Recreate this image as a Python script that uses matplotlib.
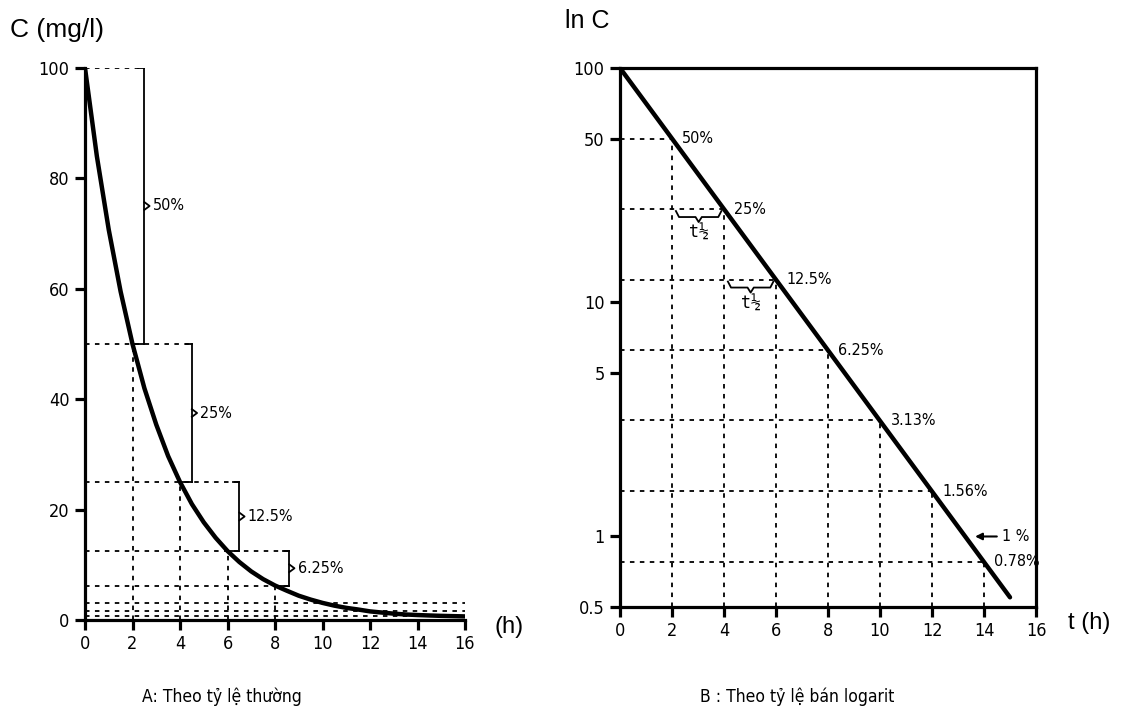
import numpy as np
import matplotlib
matplotlib.use("Agg")
import matplotlib.pyplot as plt
from matplotlib.ticker import NullLocator

# ---------------- data ----------------
curve_t = [0, 0.5, 1, 1.5, 2, 2.5, 3, 3.5, 4, 4.5, 5, 5.5, 6, 6.5, 7, 7.5, 8,
           8.5, 9, 9.5, 10, 10.5, 11, 11.5, 12, 12.5, 13, 13.5, 14, 14.5, 15, 15.5, 16]
curve_c = [100, 84, 70.7, 59.5, 50, 42, 35.4, 29.7, 25, 21, 17.7, 14.9, 12.5, 10.5, 8.8,
           7.4, 6.25, 5.3, 4.4, 3.7, 3.1, 2.6, 2.2, 1.9, 1.56, 1.35, 1.15, 1.0, 0.9,
           0.82, 0.75, 0.7, 0.65]

bracket_top = [100, 50, 25, 12.5]
bracket_bot = [50, 25, 12.5, 6.25]
bracket_tlow = [2, 4, 6, 8]
bracket_x = [2.5, 4.5, 6.5, 8.6]
bracket_lbl = ["50%", "25%", "12.5%", "6.25%"]

left_hlevels = [100, 50, 25, 12.5, 6.25, 3.13, 1.56, 0.78]
left_hend = [2.5, 4.5, 6.5, 8.6, 8.6, 16, 16, 16]
left_vtimes = [2, 4, 6, 8]
left_vtop = [50, 25, 12.5, 6.25]

left_xticks = [0, 2, 4, 6, 8, 10, 12, 14, 16]
left_yticks = [0, 20, 40, 60, 80, 100]

line_t = [0, 15]
line_c = [100, 0.55]

log_times = [2, 4, 6, 8, 10, 12, 14]
log_levels = [50, 25, 12.5, 6.25, 3.13, 1.56, 0.78]
log_lbls = ["50%", "25%", "12.5%", "6.25%", "3.13%", "1.56%", "0.78%"]

brace_t = [(2.15, 3.9), (4.15, 5.9)]
brace_lvl = [25, 12.5]

right_xticks = [0, 2, 4, 6, 8, 10, 12, 14, 16]
right_yticks = [0.5, 1, 5, 10, 50, 100]
right_yticklbl = ["0.5", "1", "5", "10", "50", "100"]

# ---------------- style ----------------
W, H = 1121, 720
fig = plt.figure(figsize=(W / 100, H / 100), dpi=100)
fig.patch.set_facecolor("white")

NARROW = dict(family=["DejaVu Sans"], stretch="condensed")
SANS = ["Liberation Sans", "DejaVu Sans"]
DOT = dict(color="black", lw=1.3, ls=(0, (2.5, 3)))

def style_axis(ax, allspines):
    for s in ["left", "bottom", "top", "right"]:
        ax.spines[s].set_linewidth(2.3)
        ax.spines[s].set_visible(allspines or s in ("left", "bottom"))
    ax.tick_params(direction="out", length=7, width=2.3, labelsize=13, pad=4)
    for lab in ax.get_xticklabels() + ax.get_yticklabels():
        lab.set_fontfamily(NARROW["family"])
        lab.set_fontstretch("condensed")

# ---------------- left panel ----------------
ax1 = fig.add_axes([85 / W, 1 - 620 / H, 380 / W, 552 / H])
ax1.set_xlim(0, 16)
ax1.set_ylim(0, 100)
ax1.set_xticks(left_xticks)
ax1.set_yticks(left_yticks)
style_axis(ax1, False)

for lvl, xe in zip(left_hlevels, left_hend):
    ax1.plot([0, xe], [lvl, lvl], **DOT, zorder=1)
for tv, top in zip(left_vtimes, left_vtop):
    ax1.plot([tv, tv], [0, top], **DOT, zorder=1)

for top, bot, tl, xb, lb in zip(bracket_top, bracket_bot, bracket_tlow, bracket_x, bracket_lbl):
    ax1.plot([xb - 0.25, xb], [top, top], color="black", lw=1.3)
    ax1.plot([xb, xb], [top, bot], color="black", lw=1.3)
    ax1.plot([tl, xb], [bot, bot], color="black", lw=1.3)
    mid = (top + bot) / 2
    ax1.plot([xb, xb + 0.22, xb], [mid + 0.7, mid, mid - 0.7], color="black", lw=1.3)
    ax1.text(xb + 0.35, mid, lb, fontsize=11.5, **NARROW, va="center", ha="left")

ax1.plot(curve_t, curve_c, color="black", lw=3.2, zorder=3, solid_capstyle="round")

fig.text(10 / W, 1 - 37 / H, "C (mg/l)", fontsize=19, family=SANS, va="baseline", ha="left")
fig.text(495 / W, 1 - 627 / H, "(h)", fontsize=17, family=SANS, va="center", ha="left")
fig.text(222 / W, 1 - 697 / H, "A: Theo tỷ lệ thường", fontsize=12.5, **NARROW,
         va="center", ha="center")

# ---------------- right panel ----------------
ax2 = fig.add_axes([620 / W, 1 - 607 / H, 416 / W, 539 / H])
ax2.set_yscale("log")
ax2.set_xlim(0, 16)
ax2.set_ylim(0.5, 100)
ax2.set_xticks(right_xticks)
ax2.set_yticks(right_yticks)
ax2.set_yticklabels(right_yticklbl)
ax2.yaxis.set_minor_locator(NullLocator())
style_axis(ax2, True)

for tv, lvl, lb in zip(log_times, log_levels, log_lbls):
    ax2.plot([0, tv], [lvl, lvl], **DOT, zorder=1)
    ax2.plot([tv, tv], [0.5, lvl], **DOT, zorder=1)
    ax2.text(tv + 0.4, lvl, lb, fontsize=11.5, **NARROW, va="center", ha="left")

PXDEC = 234.0
def down(lvl, px):
    return lvl * 10 ** (-px / PXDEC)

for (t1, t2), lvl in zip(brace_t, brace_lvl):
    tm = (t1 + t2) / 2
    xs = [t1, t1 + 0.12, tm - 0.12, tm, tm + 0.12, t2 - 0.12, t2]
    ys = [down(lvl, 2), down(lvl, 8), down(lvl, 8), down(lvl, 13),
          down(lvl, 8), down(lvl, 8), down(lvl, 2)]
    ax2.plot(xs, ys, color="black", lw=1.3)
    ax2.text(tm, down(lvl, 24), "t½", fontsize=12, family=["DejaVu Sans Mono"],
             va="center", ha="center")

ax2.plot(line_t, line_c, color="black", lw=3.2, zorder=3, solid_capstyle="round")

ax2.annotate("", xy=(13.55, 1.0), xytext=(14.6, 1.0),
             arrowprops=dict(arrowstyle="-|>", color="black", lw=1.5, mutation_scale=10))
ax2.text(14.7, 1.0, "1 %", fontsize=11.5, **NARROW, va="center", ha="left")

fig.text(565 / W, 1 - 28 / H, "ln C", fontsize=18, family=SANS, va="baseline", ha="left")
fig.text(1068 / W, 1 - 623 / H, "t (h)", fontsize=17, family=SANS, va="center", ha="left")
fig.text(797 / W, 1 - 697 / H, "B : Theo tỷ lệ bán logarit", fontsize=12.5, **NARROW,
         va="center", ha="center")

fig.savefig("out.png", dpi=100, facecolor="white")
